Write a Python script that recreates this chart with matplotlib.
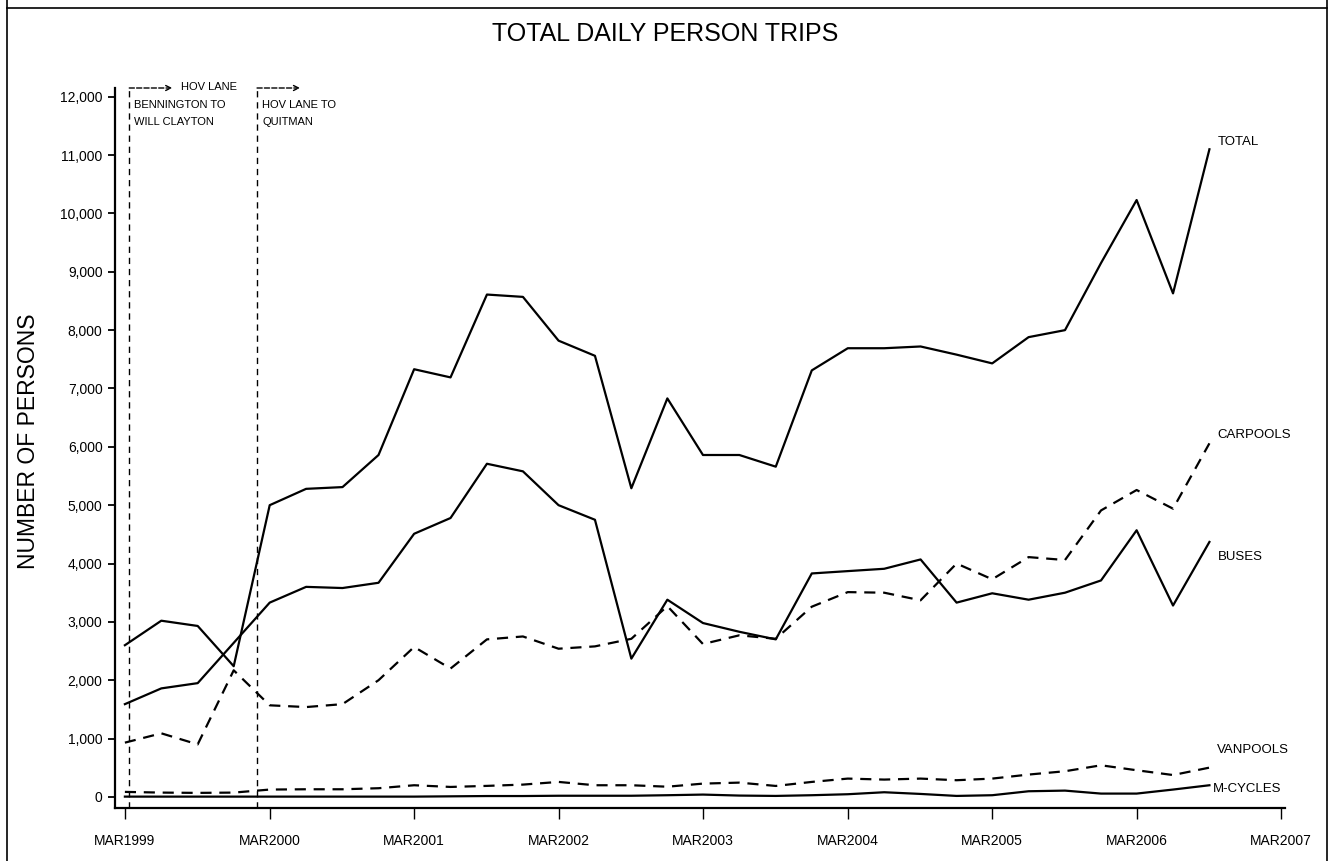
import matplotlib
matplotlib.use("Agg")
import matplotlib.pyplot as plt
import matplotlib.dates as mdates
import pandas as pd
from matplotlib.ticker import FuncFormatter
from matplotlib.transforms import offset_copy
from matplotlib.lines import Line2D

plt.rcParams['font.family'] = ['Liberation Sans', 'DejaVu Sans']

# quarterly counts, MAR1999 .. SEP2006
quarters = pd.date_range('1999-03-01', periods=31, freq='3MS')

total = [2600, 3020, 2930, 2240, 5000, 5280, 5310, 5860,
         7330, 7190, 8610, 8570, 7820, 7560, 5290, 6830,
         5860, 5860, 5660, 7310, 7690, 7690, 7720, 7580,
         7430, 7880, 8000, 9150, 10230, 8630, 11100]
# no bus count in DEC1999
buses = [1590, 1860, 1950, None, 3330, 3600, 3580, 3670,
         4510, 4780, 5710, 5580, 5000, 4750, 2370, 3380,
         2980, 2830, 2700, 3830, 3870, 3910, 4070, 3330,
         3490, 3380, 3500, 3710, 4570, 3280, 4370]
carpools = [930, 1090, 900, 2170, 1570, 1540, 1590, 2000,
            2570, 2200, 2700, 2750, 2540, 2580, 2710, 3270,
            2620, 2770, 2710, 3260, 3510, 3500, 3370, 4000,
            3730, 4110, 4060, 4910, 5260, 4940, 6060]
vanpools = [86, 74, 69, 74, 126, 131, 131, 149,
            200, 171, 189, 211, 257, 200, 200, 175,
            228, 245, 188, 257, 314, 297, 314, 286,
            314, 383, 440, 542, 457, 375, 502]
mcycles = [5, 5, 5, 5, 5, 5, 5, 5,
           5, 10, 15, 15, 20, 20, 20, 29,
           40, 23, 17, 29, 46, 80, 51, 17,
           29, 97, 108, 57, 57, 126, 200]

year_ticks = pd.date_range('1999-03-01', '2007-03-01', freq='12MS')
year_labels = ['MAR1999', 'MAR2000', 'MAR2001', 'MAR2002', 'MAR2003',
               'MAR2004', 'MAR2005', 'MAR2006', 'MAR2007']

# HOV lane openings
openings = ['1999-03-12', '2000-01-29']
opening_heads = ['HOV LANE', '']
opening_notes = [['BENNINGTON TO', 'WILL CLAYTON'], ['HOV LANE TO', 'QUITMAN']]

fig = plt.figure(figsize=(13.31, 8.61), dpi=100)
ax = fig.add_axes([115 / 1331, 53 / 861, 1170 / 1331, 720 / 861])

# name, values, dashed?, label offset (px)
series = [
    ('TOTAL', total, False, (8, 7)),
    ('CARPOOLS', carpools, True, (8, 8)),
    ('BUSES', buses, False, (8, -15)),
    ('VANPOOLS', vanpools, True, (8, 18)),
    ('M-CYCLES', mcycles, False, (3, -4)),
]

for name, values, dashed, off in series:
    xs = [d for d, v in zip(quarters, values) if v is not None]
    ys = [v for v in values if v is not None]
    line, = ax.plot(xs, ys, color='black', lw=1.6)
    if dashed:
        line.set_dashes((5, 3.5))
    ax.annotate(name, xy=(xs[-1], ys[-1]), xytext=off, textcoords='offset pixels',
                ha='left', va='center', fontsize=9.5, annotation_clip=False)

ax.set_xlim(pd.Timestamp('1999-02-04'), pd.Timestamp('2007-03-11'))
ax.set_ylim(-190, 12150)

xtrans = ax.get_xaxis_transform()
tip = offset_copy(xtrans, fig=fig, x=43, y=0, units='dots')
for d, head, notes in zip(openings, opening_heads, opening_notes):
    d = pd.Timestamp(d)
    ax.axvline(d, color='black', lw=1, dashes=(4.5, 3.5))
    xd = mdates.date2num(d)
    ax.annotate('', xy=(xd, 1), xycoords=tip, xytext=(xd, 1), textcoords=xtrans,
                arrowprops=dict(arrowstyle='->', lw=1, linestyle='--',
                                shrinkA=0, shrinkB=0, mutation_scale=9),
                annotation_clip=False)
    if head:
        ax.annotate(head, xy=(xd, 1), xycoords=xtrans, xytext=(52, 1),
                    textcoords='offset pixels', ha='left', va='center', fontsize=8)
    for i, note in enumerate(notes):
        ax.annotate(note, xy=(xd, 1), xycoords=xtrans, xytext=(5, -17 * (i + 1)),
                    textcoords='offset pixels', ha='left', va='center', fontsize=8)

ax.set_xticks(year_ticks)
ax.set_xticklabels(year_labels)
ax.set_yticks(range(0, 12001, 1000))
ax.yaxis.set_major_formatter(FuncFormatter(lambda v, p: f'{v:,.0f}'))

for side in ['top', 'right']:
    ax.spines[side].set_visible(False)
for side in ['left', 'bottom']:
    ax.spines[side].set_linewidth(1.6)
ax.tick_params(axis='y', direction='out', length=5, width=1.3, pad=4, labelsize=10)
ax.tick_params(axis='x', direction='out', length=8, width=1, pad=11, labelsize=10)

ax.set_ylabel('NUMBER OF PERSONS', fontsize=16.5)
ax.yaxis.set_label_coords(-0.064, 0.51)

fig.text(0.5, 1 - 34 / 861, 'TOTAL DAILY PERSON TRIPS', ha='center', va='center',
         fontsize=18)

# page frame
for fx, fy in [([7 / 1331] * 2, [0, 1]), ([1327 / 1331] * 2, [0, 1]),
               ([7 / 1331, 1327 / 1331], [1 - 8 / 861] * 2)]:
    fig.add_artist(Line2D(fx, fy, transform=fig.transFigure, color='black', lw=1.2))

fig.savefig('out.png', dpi=100)
